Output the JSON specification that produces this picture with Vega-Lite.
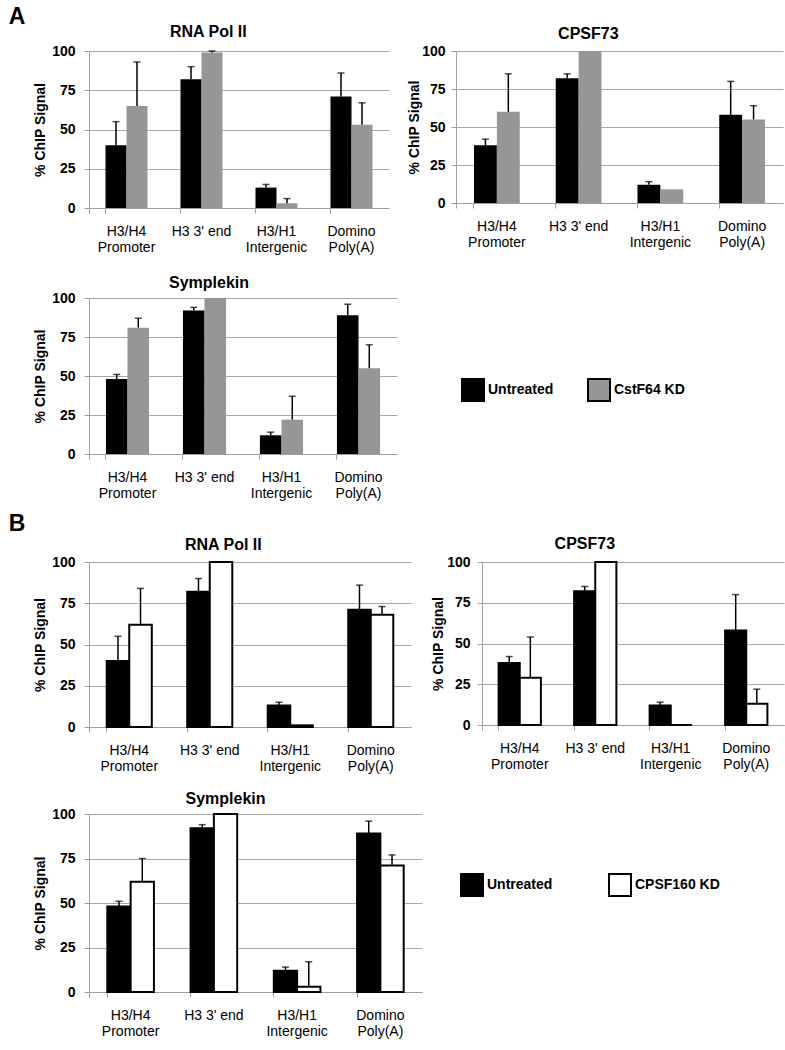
{
"$schema": "https://vega.github.io/schema/vega-lite/v6.json",
"padding": {"left": 8, "top": 6, "right": 2, "bottom": 5},
"background": "white",
"config": {
  "font": "Liberation Sans",
  "view": {"stroke": null},
  "axis": {"domainColor": "#a0a0a0", "tickColor": "#a0a0a0", "labelColor": "black", "titleColor": "black"},
  "axisY": {"gridColor": "#a8a8a8", "gridWidth": 1, "tickSize": 5, "tickCount": 5, "labelFontSize": 14, "labelFontWeight": "bold", "titleFontSize": 14, "titleFontWeight": "bold"},
  "axisX": {"labelFontSize": 14, "labelFontWeight": "normal", "tickSize": 5, "labelPadding": 11, "labelLineHeight": 16, "labelAngle": 0, "grid": false},
  "title": {"fontSize": 16, "fontWeight": "bold", "color": "black", "frame": "bounds", "offset": 10},
  "legend": {"padding": 0}
},
"datasets": {
  "aPol": [
    {"site": "H3/H4|Promoter", "cond": "Untreated", "val": 40, "hi": 55},
    {"site": "H3/H4|Promoter", "cond": "CstF64 KD", "val": 65, "hi": 93},
    {"site": "H3 3' end", "cond": "Untreated", "val": 82, "hi": 90},
    {"site": "H3 3' end", "cond": "CstF64 KD", "val": 99, "hi": 100},
    {"site": "H3/H1|Intergenic", "cond": "Untreated", "val": 13, "hi": 15},
    {"site": "H3/H1|Intergenic", "cond": "CstF64 KD", "val": 3, "hi": 6},
    {"site": "Domino|Poly(A)", "cond": "Untreated", "val": 71, "hi": 86},
    {"site": "Domino|Poly(A)", "cond": "CstF64 KD", "val": 53, "hi": 67}
  ],
  "aCpsf": [
    {"site": "H3/H4|Promoter", "cond": "Untreated", "val": 38, "hi": 42},
    {"site": "H3/H4|Promoter", "cond": "CstF64 KD", "val": 60, "hi": 85},
    {"site": "H3 3' end", "cond": "Untreated", "val": 82, "hi": 85},
    {"site": "H3 3' end", "cond": "CstF64 KD", "val": 100, "hi": null},
    {"site": "H3/H1|Intergenic", "cond": "Untreated", "val": 12, "hi": 14},
    {"site": "H3/H1|Intergenic", "cond": "CstF64 KD", "val": 9, "hi": null},
    {"site": "Domino|Poly(A)", "cond": "Untreated", "val": 58, "hi": 80},
    {"site": "Domino|Poly(A)", "cond": "CstF64 KD", "val": 55, "hi": 64}
  ],
  "aSym": [
    {"site": "H3/H4|Promoter", "cond": "Untreated", "val": 48, "hi": 51},
    {"site": "H3/H4|Promoter", "cond": "CstF64 KD", "val": 81, "hi": 87},
    {"site": "H3 3' end", "cond": "Untreated", "val": 92, "hi": 94},
    {"site": "H3 3' end", "cond": "CstF64 KD", "val": 100, "hi": null},
    {"site": "H3/H1|Intergenic", "cond": "Untreated", "val": 12, "hi": 14},
    {"site": "H3/H1|Intergenic", "cond": "CstF64 KD", "val": 22, "hi": 37},
    {"site": "Domino|Poly(A)", "cond": "Untreated", "val": 89, "hi": 96},
    {"site": "Domino|Poly(A)", "cond": "CstF64 KD", "val": 55, "hi": 70}
  ],
  "bPol": [
    {"site": "H3/H4|Promoter", "cond": "Untreated", "val": 40, "hi": 55},
    {"site": "H3/H4|Promoter", "cond": "CPSF160 KD", "val": 62, "hi": 84},
    {"site": "H3 3' end", "cond": "Untreated", "val": 82, "hi": 90},
    {"site": "H3 3' end", "cond": "CPSF160 KD", "val": 100, "hi": null},
    {"site": "H3/H1|Intergenic", "cond": "Untreated", "val": 13, "hi": 15},
    {"site": "H3/H1|Intergenic", "cond": "CPSF160 KD", "val": 1, "hi": null},
    {"site": "Domino|Poly(A)", "cond": "Untreated", "val": 71, "hi": 86},
    {"site": "Domino|Poly(A)", "cond": "CPSF160 KD", "val": 68, "hi": 73}
  ],
  "bCpsf": [
    {"site": "H3/H4|Promoter", "cond": "Untreated", "val": 38, "hi": 42},
    {"site": "H3/H4|Promoter", "cond": "CPSF160 KD", "val": 29, "hi": 54},
    {"site": "H3 3' end", "cond": "Untreated", "val": 82, "hi": 85},
    {"site": "H3 3' end", "cond": "CPSF160 KD", "val": 100, "hi": null},
    {"site": "H3/H1|Intergenic", "cond": "Untreated", "val": 12, "hi": 14},
    {"site": "H3/H1|Intergenic", "cond": "CPSF160 KD", "val": 0, "hi": null},
    {"site": "Domino|Poly(A)", "cond": "Untreated", "val": 58, "hi": 80},
    {"site": "Domino|Poly(A)", "cond": "CPSF160 KD", "val": 13, "hi": 22}
  ],
  "bSym": [
    {"site": "H3/H4|Promoter", "cond": "Untreated", "val": 48, "hi": 51},
    {"site": "H3/H4|Promoter", "cond": "CPSF160 KD", "val": 62, "hi": 75},
    {"site": "H3 3' end", "cond": "Untreated", "val": 92, "hi": 94},
    {"site": "H3 3' end", "cond": "CPSF160 KD", "val": 100, "hi": null},
    {"site": "H3/H1|Intergenic", "cond": "Untreated", "val": 12, "hi": 14},
    {"site": "H3/H1|Intergenic", "cond": "CPSF160 KD", "val": 3, "hi": 17},
    {"site": "Domino|Poly(A)", "cond": "Untreated", "val": 89, "hi": 96},
    {"site": "Domino|Poly(A)", "cond": "CPSF160 KD", "val": 71, "hi": 77}
  ]
},
"resolve": {"scale": {"x": "independent", "y": "independent", "color": "independent", "xOffset": "independent"}, "axis": {"x": "independent", "y": "independent"}, "legend": {"color": "independent"}},
"columns": 1,
"align": "none",
"spacing": 13,
"concat": [
 {
  "title": {"text": "A", "fontSize": 23, "anchor": "start", "dx": -25, "offset": -5},
  "resolve": {"scale": {"x": "independent", "y": "independent", "color": "independent", "xOffset": "independent"}, "axis": {"x": "independent", "y": "independent"}, "legend": {"color": "independent"}},
  "columns": 1,
  "align": "none",
  "spacing": 21,
  "concat": [
   {
    "resolve": {"scale": {"x": "independent", "y": "independent", "color": "independent", "xOffset": "independent"}, "axis": {"x": "independent", "y": "independent"}, "legend": {"color": "independent"}},
    "align": "none",
    "spacing": 18,
    "concat": [
     {
      "width": 300, "height": 157,
      "title": {"text": "RNA Pol II", "offset": 4, "dx": -3},
      "data": {"name": "aPol"},
      "encoding": {
        "x": {"field": "site", "type": "nominal", "sort": ["H3/H4|Promoter", "H3 3' end", "H3/H1|Intergenic", "Domino|Poly(A)"], "title": null, "scale": {"paddingInner": 0.44, "paddingOuter": 0.22}, "axis": {"bandPosition": 0, "tickExtra": true, "labelExpr": "split(datum.label, '|')"}},
        "xOffset": {"field": "cond", "type": "nominal", "sort": ["Untreated", "CstF64 KD"], "scale": {"paddingInner": 0, "paddingOuter": 0}}
      },
      "layer": [
        {"mark": {"type": "bar"}, "encoding": {
          "y": {"field": "val", "type": "quantitative", "title": "% ChIP Signal", "scale": {"domain": [0, 100], "nice": false}, "axis": {"values": [0, 25, 50, 75, 100], "tickCount": 5, "titlePadding": 4, "labelPadding": 9}},
          "color": {"field": "cond", "type": "nominal", "scale": {"domain": ["Untreated", "CstF64 KD"], "range": ["black", "#969696"]}, "legend": null}}},
        {"transform": [{"filter": "datum.hi != null"}], "mark": {"type": "rule", "color": "black", "strokeWidth": 1.5}, "encoding": {"y": {"field": "val", "type": "quantitative", "title": "% ChIP Signal"}, "y2": {"field": "hi"}}},
        {"transform": [{"filter": "datum.hi != null"}], "mark": {"type": "tick", "color": "black", "size": 7, "thickness": 1.5}, "encoding": {"y": {"field": "hi", "type": "quantitative", "title": "% ChIP Signal"}}}
      ]
     },
     {
      "width": 327, "height": 152,
      "title": {"text": "CPSF73", "offset": 2, "dx": -7},
      "data": {"name": "aCpsf"},
      "encoding": {
        "x": {"field": "site", "type": "nominal", "sort": ["H3/H4|Promoter", "H3 3' end", "H3/H1|Intergenic", "Domino|Poly(A)"], "title": null, "scale": {"paddingInner": 0.44, "paddingOuter": 0.22}, "axis": {"bandPosition": 0, "tickExtra": true, "labelExpr": "split(datum.label, '|')"}},
        "xOffset": {"field": "cond", "type": "nominal", "sort": ["Untreated", "CstF64 KD"], "scale": {"paddingInner": 0, "paddingOuter": 0}}
      },
      "layer": [
        {"mark": {"type": "bar"}, "encoding": {
          "y": {"field": "val", "type": "quantitative", "title": "% ChIP Signal", "scale": {"domain": [0, 100], "nice": false}, "axis": {"values": [0, 25, 50, 75, 100], "tickCount": 5, "titlePadding": 0, "labelPadding": 6}},
          "color": {"field": "cond", "type": "nominal", "scale": {"domain": ["Untreated", "CstF64 KD"], "range": ["black", "#969696"]}, "legend": null}}},
        {"transform": [{"filter": "datum.hi != null"}], "mark": {"type": "rule", "color": "black", "strokeWidth": 1.5}, "encoding": {"y": {"field": "val", "type": "quantitative", "title": "% ChIP Signal"}, "y2": {"field": "hi"}}},
        {"transform": [{"filter": "datum.hi != null"}], "mark": {"type": "tick", "color": "black", "size": 7, "thickness": 1.5}, "encoding": {"y": {"field": "hi", "type": "quantitative", "title": "% ChIP Signal"}}}
      ]
     }
    ]
   },
   {
    "width": 308, "height": 156,
    "title": {"text": "Symplekin", "offset": 0, "frame": "group", "dx": -34},
    "data": {"name": "aSym"},
    "encoding": {
      "x": {"field": "site", "type": "nominal", "sort": ["H3/H4|Promoter", "H3 3' end", "H3/H1|Intergenic", "Domino|Poly(A)"], "title": null, "scale": {"paddingInner": 0.44, "paddingOuter": 0.22}, "axis": {"bandPosition": 0, "tickExtra": true, "labelExpr": "split(datum.label, '|')"}},
      "xOffset": {"field": "cond", "type": "nominal", "sort": ["Untreated", "CstF64 KD"], "scale": {"paddingInner": 0, "paddingOuter": 0}}
    },
    "layer": [
      {"mark": {"type": "bar"}, "encoding": {
        "y": {"field": "val", "type": "quantitative", "title": "% ChIP Signal", "scale": {"domain": [0, 100], "nice": false}, "axis": {"values": [0, 25, 50, 75, 100], "tickCount": 5, "titlePadding": 4, "labelPadding": 9}},
        "color": {"field": "cond", "type": "nominal", "scale": {"domain": ["Untreated", "CstF64 KD"], "range": ["black", "#969696"]}, "legend": {"orient": "none", "legendX": 372, "legendY": 80, "direction": "horizontal", "title": null, "symbolType": "square", "symbolSize": 484, "symbolStrokeColor": "black", "symbolStrokeWidth": 2, "symbolOpacity": 1, "labelFontSize": 14, "labelFontWeight": "bold", "labelColor": "black", "labelOffset": 3, "columnPadding": 30}}}},
      {"transform": [{"filter": "datum.hi != null"}], "mark": {"type": "rule", "color": "black", "strokeWidth": 1.5}, "encoding": {"y": {"field": "val", "type": "quantitative", "title": "% ChIP Signal"}, "y2": {"field": "hi"}}},
      {"transform": [{"filter": "datum.hi != null"}], "mark": {"type": "tick", "color": "black", "size": 7, "thickness": 1.5}, "encoding": {"y": {"field": "hi", "type": "quantitative", "title": "% ChIP Signal"}}}
    ]
   }
  ]
 },
 {
  "title": {"text": "B", "fontSize": 23, "anchor": "start", "dx": -25, "offset": 0},
  "resolve": {"scale": {"x": "independent", "y": "independent", "color": "independent", "xOffset": "independent"}, "axis": {"x": "independent", "y": "independent"}, "legend": {"color": "independent"}},
  "columns": 1,
  "align": "none",
  "spacing": 18,
  "concat": [
   {
    "resolve": {"scale": {"x": "independent", "y": "independent", "color": "independent", "xOffset": "independent"}, "axis": {"x": "independent", "y": "independent"}, "legend": {"color": "independent"}},
    "align": "none",
    "spacing": 20,
    "concat": [
     {
      "width": 322, "height": 165,
      "title": {"text": "RNA Pol II", "offset": 2, "dx": 1},
      "data": {"name": "bPol"},
      "encoding": {
        "x": {"field": "site", "type": "nominal", "sort": ["H3/H4|Promoter", "H3 3' end", "H3/H1|Intergenic", "Domino|Poly(A)"], "title": null, "scale": {"paddingInner": 0.44, "paddingOuter": 0.22}, "axis": {"bandPosition": 0, "tickExtra": true, "labelExpr": "split(datum.label, '|')"}},
        "xOffset": {"field": "cond", "type": "nominal", "sort": ["Untreated", "CPSF160 KD"], "scale": {"paddingInner": 0, "paddingOuter": 0}}
      },
      "layer": [
        {"mark": {"type": "bar", "stroke": "black", "strokeWidth": 2}, "encoding": {
          "y": {"field": "val", "type": "quantitative", "title": "% ChIP Signal", "scale": {"domain": [0, 100], "nice": false}, "axis": {"values": [0, 25, 50, 75, 100], "tickCount": 5, "titlePadding": 4, "labelPadding": 9}},
          "color": {"field": "cond", "type": "nominal", "scale": {"domain": ["Untreated", "CPSF160 KD"], "range": ["black", "white"]}, "legend": null}}},
        {"transform": [{"filter": "datum.hi != null"}], "mark": {"type": "rule", "color": "black", "strokeWidth": 1.5}, "encoding": {"y": {"field": "val", "type": "quantitative", "title": "% ChIP Signal"}, "y2": {"field": "hi"}}},
        {"transform": [{"filter": "datum.hi != null"}], "mark": {"type": "tick", "color": "black", "size": 7, "thickness": 1.5}, "encoding": {"y": {"field": "hi", "type": "quantitative", "title": "% ChIP Signal"}}}
      ]
     },
     {
      "width": 302, "height": 163,
      "title": {"text": "CPSF73", "offset": 3, "dx": -23},
      "data": {"name": "bCpsf"},
      "encoding": {
        "x": {"field": "site", "type": "nominal", "sort": ["H3/H4|Promoter", "H3 3' end", "H3/H1|Intergenic", "Domino|Poly(A)"], "title": null, "scale": {"paddingInner": 0.44, "paddingOuter": 0.22}, "axis": {"bandPosition": 0, "tickExtra": true, "labelExpr": "split(datum.label, '|')"}},
        "xOffset": {"field": "cond", "type": "nominal", "sort": ["Untreated", "CPSF160 KD"], "scale": {"paddingInner": 0, "paddingOuter": 0}}
      },
      "layer": [
        {"mark": {"type": "bar", "stroke": "black", "strokeWidth": 2}, "encoding": {
          "y": {"field": "val", "type": "quantitative", "title": "% ChIP Signal", "scale": {"domain": [0, 100], "nice": false}, "axis": {"values": [0, 25, 50, 75, 100], "tickCount": 5, "titlePadding": 1, "labelPadding": 7}},
          "color": {"field": "cond", "type": "nominal", "scale": {"domain": ["Untreated", "CPSF160 KD"], "range": ["black", "white"]}, "legend": null}}},
        {"transform": [{"filter": "datum.hi != null"}], "mark": {"type": "rule", "color": "black", "strokeWidth": 1.5}, "encoding": {"y": {"field": "val", "type": "quantitative", "title": "% ChIP Signal"}, "y2": {"field": "hi"}}},
        {"transform": [{"filter": "datum.hi != null"}], "mark": {"type": "tick", "color": "black", "size": 7, "thickness": 1.5}, "encoding": {"y": {"field": "hi", "type": "quantitative", "title": "% ChIP Signal"}}}
      ]
     }
    ]
   },
   {
    "width": 333, "height": 178,
    "title": {"text": "Symplekin", "offset": 0, "frame": "group", "dx": -30},
    "data": {"name": "bSym"},
    "encoding": {
      "x": {"field": "site", "type": "nominal", "sort": ["H3/H4|Promoter", "H3 3' end", "H3/H1|Intergenic", "Domino|Poly(A)"], "title": null, "scale": {"paddingInner": 0.44, "paddingOuter": 0.22}, "axis": {"bandPosition": 0, "tickExtra": true, "labelExpr": "split(datum.label, '|')"}},
      "xOffset": {"field": "cond", "type": "nominal", "sort": ["Untreated", "CPSF160 KD"], "scale": {"paddingInner": 0, "paddingOuter": 0}}
    },
    "layer": [
      {"mark": {"type": "bar", "stroke": "black", "strokeWidth": 2}, "encoding": {
        "y": {"field": "val", "type": "quantitative", "title": "% ChIP Signal", "scale": {"domain": [0, 100], "nice": false}, "axis": {"values": [0, 25, 50, 75, 100], "tickCount": 5, "titlePadding": 4, "labelPadding": 9}},
        "color": {"field": "cond", "type": "nominal", "scale": {"domain": ["Untreated", "CPSF160 KD"], "range": ["black", "white"]}, "legend": {"orient": "none", "legendX": 371, "legendY": 59, "direction": "horizontal", "title": null, "symbolType": "square", "symbolSize": 484, "symbolStrokeColor": "black", "symbolStrokeWidth": 2, "symbolOpacity": 1, "labelFontSize": 14, "labelFontWeight": "bold", "labelColor": "black", "labelOffset": 3, "columnPadding": 52}}}},
      {"transform": [{"filter": "datum.hi != null"}], "mark": {"type": "rule", "color": "black", "strokeWidth": 1.5}, "encoding": {"y": {"field": "val", "type": "quantitative", "title": "% ChIP Signal"}, "y2": {"field": "hi"}}},
      {"transform": [{"filter": "datum.hi != null"}], "mark": {"type": "tick", "color": "black", "size": 7, "thickness": 1.5}, "encoding": {"y": {"field": "hi", "type": "quantitative", "title": "% ChIP Signal"}}}
    ]
   }
  ]
 }
]
}
